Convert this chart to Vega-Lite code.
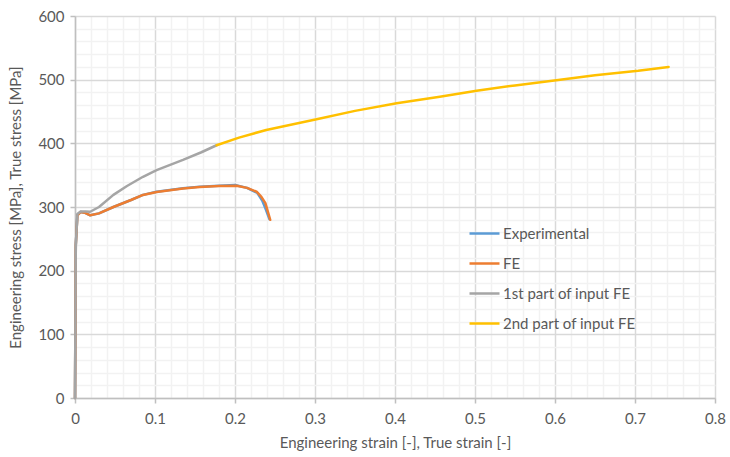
{
  "$schema": "https://vega.github.io/schema/vega-lite/v6.json",
  "width": 640,
  "height": 382,
  "autosize": {"type": "none"},
  "padding": {"left": 75, "top": 16, "right": 15, "bottom": 59},
  "background": "white",
  "config": {
    "font": "Lato",
    "view": {"stroke": null},
    "axis": {
      "labelFont": "Lato",
      "titleFont": "Lato",
      "labelColor": "#595959",
      "titleColor": "#595959",
      "labelFontSize": 15,
      "titleFontSize": 15,
      "titleFontWeight": "normal",
      "labelOverlap": false,
      "labelFlush": false,
      "domainColor": "#bfbfbf",
      "domainWidth": 1.5,
      "gridWidth": 1.5
    }
  },
  "data": {
    "values": [
      {"s": "Experimental", "i": 0, "x": 0, "y": 0},
      {"s": "Experimental", "i": 1, "x": 0.001, "y": 240},
      {"s": "Experimental", "i": 2, "x": 0.003, "y": 288},
      {"s": "Experimental", "i": 3, "x": 0.007, "y": 292},
      {"s": "Experimental", "i": 4, "x": 0.012, "y": 291},
      {"s": "Experimental", "i": 5, "x": 0.019, "y": 287},
      {"s": "Experimental", "i": 6, "x": 0.03, "y": 290},
      {"s": "Experimental", "i": 7, "x": 0.048, "y": 300},
      {"s": "Experimental", "i": 8, "x": 0.07, "y": 311},
      {"s": "Experimental", "i": 9, "x": 0.085, "y": 319},
      {"s": "Experimental", "i": 10, "x": 0.102, "y": 324},
      {"s": "Experimental", "i": 11, "x": 0.135, "y": 329.5},
      {"s": "Experimental", "i": 12, "x": 0.156, "y": 332},
      {"s": "Experimental", "i": 13, "x": 0.18, "y": 333.5},
      {"s": "Experimental", "i": 14, "x": 0.2, "y": 334.5},
      {"s": "Experimental", "i": 15, "x": 0.215, "y": 330},
      {"s": "Experimental", "i": 16, "x": 0.228, "y": 322},
      {"s": "Experimental", "i": 17, "x": 0.234, "y": 310},
      {"s": "Experimental", "i": 18, "x": 0.238, "y": 298},
      {"s": "Experimental", "i": 19, "x": 0.243, "y": 281},
      {"s": "FE", "i": 0, "x": 0, "y": 0},
      {"s": "FE", "i": 1, "x": 0.001, "y": 240},
      {"s": "FE", "i": 2, "x": 0.003, "y": 287},
      {"s": "FE", "i": 3, "x": 0.007, "y": 292},
      {"s": "FE", "i": 4, "x": 0.012, "y": 291},
      {"s": "FE", "i": 5, "x": 0.019, "y": 287},
      {"s": "FE", "i": 6, "x": 0.03, "y": 290},
      {"s": "FE", "i": 7, "x": 0.048, "y": 300},
      {"s": "FE", "i": 8, "x": 0.07, "y": 311},
      {"s": "FE", "i": 9, "x": 0.085, "y": 319},
      {"s": "FE", "i": 10, "x": 0.102, "y": 323.5},
      {"s": "FE", "i": 11, "x": 0.135, "y": 329},
      {"s": "FE", "i": 12, "x": 0.156, "y": 331.5},
      {"s": "FE", "i": 13, "x": 0.18, "y": 333},
      {"s": "FE", "i": 14, "x": 0.202, "y": 333.5},
      {"s": "FE", "i": 15, "x": 0.215, "y": 330},
      {"s": "FE", "i": 16, "x": 0.227, "y": 324},
      {"s": "FE", "i": 17, "x": 0.233, "y": 316},
      {"s": "FE", "i": 18, "x": 0.238, "y": 306},
      {"s": "FE", "i": 19, "x": 0.244, "y": 280},
      {"s": "1st part of input FE", "i": 0, "x": 0, "y": 0},
      {"s": "1st part of input FE", "i": 1, "x": 0.001, "y": 240},
      {"s": "1st part of input FE", "i": 2, "x": 0.003, "y": 289},
      {"s": "1st part of input FE", "i": 3, "x": 0.007, "y": 293},
      {"s": "1st part of input FE", "i": 4, "x": 0.013, "y": 293},
      {"s": "1st part of input FE", "i": 5, "x": 0.019, "y": 292.5},
      {"s": "1st part of input FE", "i": 6, "x": 0.03, "y": 300},
      {"s": "1st part of input FE", "i": 7, "x": 0.048, "y": 319},
      {"s": "1st part of input FE", "i": 8, "x": 0.065, "y": 333},
      {"s": "1st part of input FE", "i": 9, "x": 0.085, "y": 347.5},
      {"s": "1st part of input FE", "i": 10, "x": 0.102, "y": 358},
      {"s": "1st part of input FE", "i": 11, "x": 0.135, "y": 374},
      {"s": "1st part of input FE", "i": 12, "x": 0.158, "y": 386},
      {"s": "1st part of input FE", "i": 13, "x": 0.177, "y": 397},
      {"s": "2nd part of input FE", "i": 0, "x": 0.177, "y": 397},
      {"s": "2nd part of input FE", "i": 1, "x": 0.205, "y": 409},
      {"s": "2nd part of input FE", "i": 2, "x": 0.239, "y": 421},
      {"s": "2nd part of input FE", "i": 3, "x": 0.302, "y": 437.7},
      {"s": "2nd part of input FE", "i": 4, "x": 0.35, "y": 451},
      {"s": "2nd part of input FE", "i": 5, "x": 0.402, "y": 463},
      {"s": "2nd part of input FE", "i": 6, "x": 0.456, "y": 473},
      {"s": "2nd part of input FE", "i": 7, "x": 0.502, "y": 482.7},
      {"s": "2nd part of input FE", "i": 8, "x": 0.55, "y": 491},
      {"s": "2nd part of input FE", "i": 9, "x": 0.604, "y": 499.5},
      {"s": "2nd part of input FE", "i": 10, "x": 0.65, "y": 507},
      {"s": "2nd part of input FE", "i": 11, "x": 0.704, "y": 514},
      {"s": "2nd part of input FE", "i": 12, "x": 0.742, "y": 520}
    ]
  },
  "mark": {"type": "line", "strokeWidth": 2.5, "strokeJoin": "round", "strokeCap": "round"},
  "encoding": {
    "x": {
      "field": "x",
      "type": "quantitative",
      "scale": {"domain": [0, 0.8], "nice": false, "zero": true},
      "axis": {
        "title": "Engineering strain [-], True strain [-]",
        "titlePadding": 9,
        "values": [0,0.02,0.04,0.06,0.08,0.1,0.12,0.14,0.16,0.18,0.2,0.22,0.24,0.26,0.28,0.3,0.32,0.34,0.36,0.38,0.4,0.42,0.44,0.46,0.48,0.5,0.52,0.54,0.56,0.58,0.6,0.62,0.64,0.66,0.68,0.7,0.72,0.74,0.76,0.78,0.8],
        "labelExpr": "abs(datum.value*10 - round(datum.value*10)) < 0.001 ? format(datum.value, '.1~f') : ''",
        "labelPadding": 8,
        "gridColor": {"condition": {"test": "abs(datum.value*10 - round(datum.value*10)) < 0.001", "value": "#d9d9d9"}, "value": "#f2f2f2"},
        "tickColor": {"condition": {"test": "abs(datum.value*10 - round(datum.value*10)) < 0.001", "value": "#bfbfbf"}, "value": "transparent"},
        "tickSize": 5,
        "tickWidth": 1.5
      }
    },
    "y": {
      "field": "y",
      "type": "quantitative",
      "scale": {"domain": [0, 600], "nice": false},
      "axis": {
        "title": "Engineering stress [MPa], True stress [MPa]",
        "titlePadding": 14,
        "values": [0,20,40,60,80,100,120,140,160,180,200,220,240,260,280,300,320,340,360,380,400,420,440,460,480,500,520,540,560,580,600],
        "labelExpr": "datum.value % 100 == 0 ? datum.label : ''",
        "labelPadding": 6,
        "gridColor": {"condition": {"test": "datum.value % 100 == 0", "value": "#d9d9d9"}, "value": "#f2f2f2"},
        "tickColor": {"condition": {"test": "datum.value % 100 == 0", "value": "#bfbfbf"}, "value": "transparent"},
        "tickSize": 5,
        "tickWidth": 1.5
      }
    },
    "color": {
      "field": "s",
      "type": "nominal",
      "scale": {
        "domain": ["Experimental", "FE", "1st part of input FE", "2nd part of input FE"],
        "range": ["#5b9bd5", "#ed7d31", "#a5a5a5", "#ffc000"]
      },
      "legend": {
        "title": null,
        "orient": "none",
        "legendX": 393,
        "legendY": 201,
        "symbolType": "stroke",
        "symbolSize": 900,
        "symbolStrokeWidth": 2.5,
        "labelFont": "Lato",
        "labelFontSize": 15,
        "labelColor": "#595959",
        "rowPadding": 5,
        "labelOffset": 2
      }
    },
    "order": {"field": "i", "type": "quantitative"}
  }
}
